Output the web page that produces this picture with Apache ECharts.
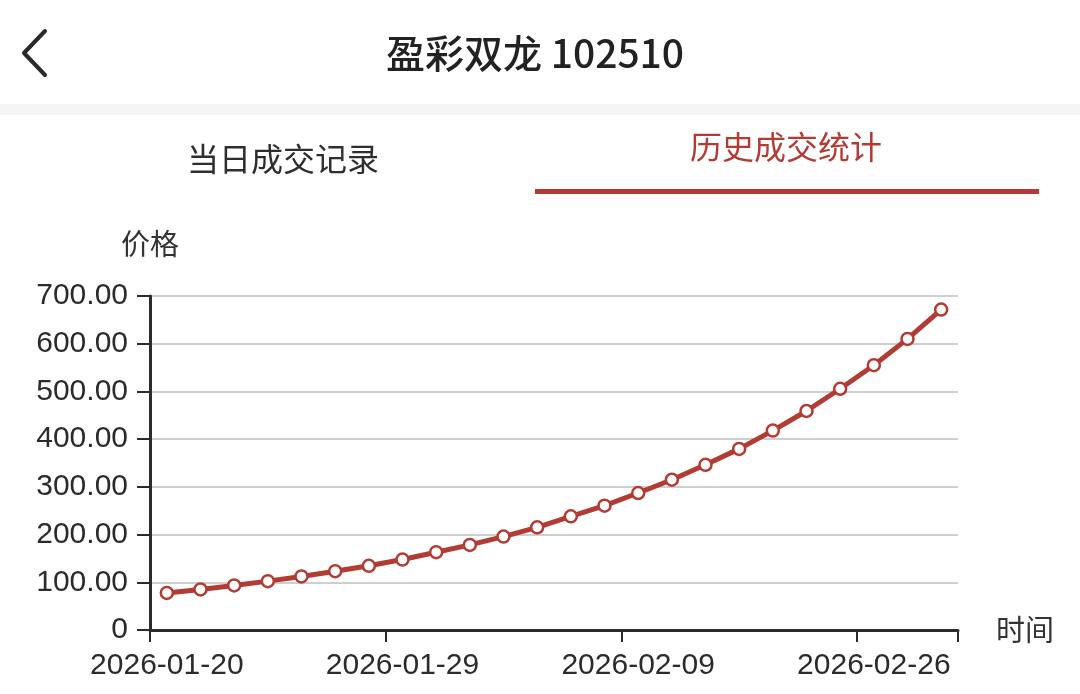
<!DOCTYPE html>
<html>
<head>
<meta charset="utf-8">
<script src="https://cdn.jsdelivr.net/npm/echarts@6/dist/echarts.min.js"></script>
<style>
html,body{margin:0;padding:0;background:#fff;}
#chart{width:1080px;height:694px;}
</style>
</head>
<body>
<div id="chart"></div>
<script>
const pageTitle = '盈彩双龙 102510';
const tabLeft = '当日成交记录';
const tabRight = '历史成交统计';
const yAxisName = '价格';
const xAxisName = '时间';
const dates = [
  '2026-01-20','2026-01-21','2026-01-22','2026-01-23','2026-01-26','2026-01-27','2026-01-28',
  '2026-01-29','2026-01-30','2026-02-02','2026-02-03','2026-02-04','2026-02-05','2026-02-06',
  '2026-02-09','2026-02-10','2026-02-11','2026-02-12','2026-02-13','2026-02-24','2026-02-25',
  '2026-02-26','2026-02-27','2026-03-02'
];
const prices = [
  77.6, 85.0, 93.4, 102.4, 112.2, 123.3, 134.6,
  147.7, 163.0, 178.4, 195.8, 215.2, 238.2, 260.5,
  287.1, 314.9, 346.2, 379.6, 417.9, 459.0, 505.6,
  555.0, 610.1, 671.5
];
const yTicks = [0, 100, 200, 300, 400, 500, 600, 700];

const red = '#b23c33';
const chart = echarts.init(document.getElementById('chart'), null, {renderer: 'canvas'});
chart.setOption({
  backgroundColor: '#ffffff',
  animation: false,
  grid: {left: 150, right: 122, top: 296, bottom: 64, containLabel: false},
  graphic: [
    {type: 'polyline', shape: {points: [[45, 31], [24, 53], [45, 75]]},
     style: {stroke: '#2a2a2a', lineWidth: 4, fill: null, lineCap: 'round', lineJoin: 'round'}},
    {type: 'text', x: 535, y: 53, style: {text: pageTitle, fill: '#222', font: '500 39px "Noto Sans CJK SC", sans-serif', textAlign: 'center', textVerticalAlign: 'middle'}},
    {type: 'rect', shape: {x: 0, y: 104, width: 1080, height: 11}, style: {fill: '#f5f5f5'}},
    {type: 'text', x: 283, y: 159, style: {text: tabLeft, fill: '#2e2e2e', font: '32px "Noto Sans CJK SC", sans-serif', textAlign: 'center', textVerticalAlign: 'middle'}},
    {type: 'text', x: 786, y: 147, style: {text: tabRight, fill: red, font: '32px "Noto Sans CJK SC", sans-serif', textAlign: 'center', textVerticalAlign: 'middle'}},
    {type: 'rect', shape: {x: 535, y: 189, width: 504, height: 5}, style: {fill: red}}
  ],
  xAxis: {
    type: 'category',
    data: dates,
    boundaryGap: true,
    name: xAxisName,
    nameLocation: 'end',
    nameGap: 38,
    nameTextStyle: {color: '#333', fontSize: 29, fontFamily: '"Noto Sans CJK SC", sans-serif', verticalAlign: 'middle'},
    axisLine: {show: true, lineStyle: {color: '#2b2b2b', width: 3}},
    axisTick: {show: true, length: 12, interval: 6, lineStyle: {color: '#2b2b2b', width: 2}},
    axisLabel: {interval: 6, color: '#2b2b2b', fontSize: 30, fontFamily: '"Liberation Sans", Arial, sans-serif', margin: 21},
    splitLine: {show: false}
  },
  yAxis: {
    type: 'value',
    min: yTicks[0],
    max: yTicks[yTicks.length - 1],
    interval: 100,
    name: yAxisName,
    nameLocation: 'end',
    nameGap: 38,
    nameTextStyle: {color: '#333', fontSize: 29, fontFamily: '"Noto Sans CJK SC", sans-serif', align: 'center'},
    axisLine: {show: true, lineStyle: {color: '#2b2b2b', width: 3}},
    axisTick: {show: true, length: 13, lineStyle: {color: '#2b2b2b', width: 2}},
    axisLabel: {color: '#2b2b2b', fontSize: 30, fontFamily: '"Liberation Sans", Arial, sans-serif', margin: 22,
      formatter: v => v === 0 ? '0' : v.toFixed(2)},
    splitLine: {show: true, lineStyle: {color: '#cfcfcf', width: 2}}
  },
  series: [{
    type: 'line',
    data: prices,
    symbol: 'circle',
    symbolSize: 12,
    showAllSymbol: true,
    lineStyle: {color: red, width: 5},
    itemStyle: {color: '#ffffff', borderColor: red, borderWidth: 2.5}
  }]
});
</script>
</body>
</html>
